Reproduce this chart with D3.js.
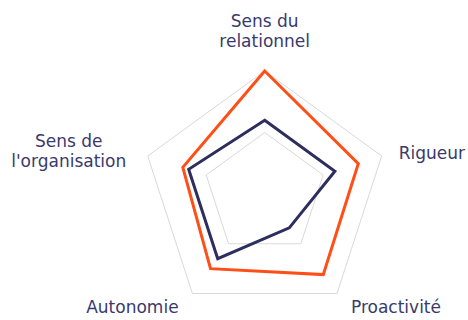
<!DOCTYPE html>
<html>
<head>
<meta charset="utf-8">
<script src="https://cdn.jsdelivr.net/npm/d3@7"></script>
<style>
  body { margin: 0; background: #fff; }
  svg text { font-family: "DejaVu Sans", sans-serif; font-size: 17px; fill: #3a3a6c; }
</style>
</head>
<body>
<svg id="chart" width="468" height="320"></svg>
<script>
const axes = [
    ["Sens du", "relationnel"],
    ["Rigueur"],
    ["Proactivité"],
    ["Autonomie"],
    ["Sens de", "l'organisation"]
];
const gridLevels = [5, 10];
const orangeValues = [10, 8, 8.1, 7.5, 7];
const navyValues = [6, 6, 3.4, 6.5, 6.5];

const cx = 264.7, cy = 194, R = 123;
const svg = d3.select("#chart");
const r = d3.scaleLinear().domain([0, 10]).range([0, R]);
const angle = i => (i * 2 * Math.PI) / axes.length;

function point(i, v) {
    return [cx + r(v) * Math.sin(angle(i)), cy - r(v) * Math.cos(angle(i))];
}

const line = d3.line().curve(d3.curveLinearClosed);

// grid rings
svg.selectAll(".grid")
    .data(gridLevels)
    .enter().append("path")
    .attr("d", lvl => line(axes.map((a, i) => point(i, lvl))))
    .attr("fill", "none")
    .attr("stroke", "#d9d9d9")
    .attr("stroke-width", 1);

// series
const series = [
    { values: orangeValues, color: "#ff4f17" },
    { values: navyValues, color: "#2e2e5e" }
];
series.forEach(s => {
    svg.append("path")
        .attr("d", line(s.values.map((v, i) => point(i, v))))
        .attr("fill", "none")
        .attr("stroke", s.color)
        .attr("stroke-width", 3)
        .attr("stroke-linejoin", "miter");
});

// labels
const labelPos = [
    { dx: 0, dy: -44, anchor: "middle" },
    { dx: 17, dy: 3, anchor: "start" },
    { dx: 59, dy: 19, anchor: "middle" },
    { dx: -60, dy: 19, anchor: "middle" },
    { dx: -79, dy: -9, anchor: "middle" }
];
axes.forEach((lines, i) => {
    const [x, y] = point(i, 10);
    const p = labelPos[i];
    const t = svg.append("text")
        .attr("text-anchor", p.anchor);
    lines.forEach((ln, k) => {
        t.append("tspan")
            .attr("x", x + p.dx)
            .attr("y", y + p.dy + k * 20)
            .text(ln);
    });
});
</script>
</body>
</html>
